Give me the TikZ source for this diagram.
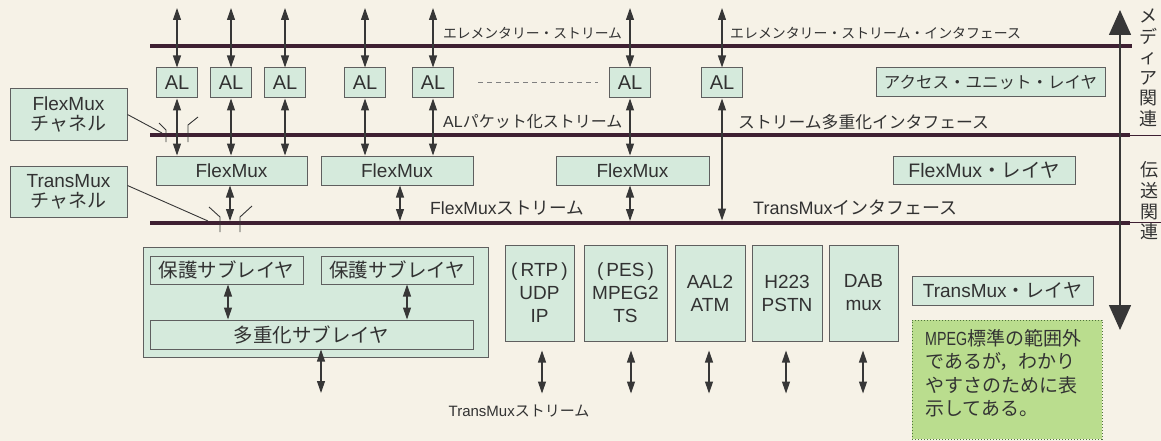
\documentclass[tikz,border=0pt]{standalone}
\usepackage{fontspec}
\setmainfont{Liberation Sans}
\newfontfamily\jp{Noto Sans CJK JP}
\usetikzlibrary{arrows.meta}
\definecolor{bg}{RGB}{246,242,231}
\definecolor{boxfill}{RGB}{213,234,220}
\definecolor{boxline}{RGB}{95,95,95}
\definecolor{barcol}{RGB}{62,32,50}
\definecolor{arrcol}{RGB}{55,55,55}
\definecolor{notefill}{RGB}{186,221,142}
\definecolor{noteline}{RGB}{80,115,60}
\definecolor{txt}{RGB}{50,50,50}
\newcommand\fsz[2]{\fontsize{#1}{#2}\selectfont}
\begin{document}
\begin{tikzpicture}[x=1pt,y=-1pt,
  lay/.style={draw=boxline, fill=boxfill, line width=1pt, inner sep=0pt, text=txt},
  bar/.style={draw=barcol, line width=4pt},
  barthin/.style={draw=barcol, line width=1pt},
  dbl/.style={draw=arrcol, line width=1.1pt, {Triangle[width=8pt,length=12pt]}-{Triangle[width=8pt,length=12pt]}},
  bigarrow/.style={draw=arrcol, line width=1.5pt, {Triangle[width=22pt,length=25pt]}-{Triangle[width=22pt,length=25pt]}},
  lead/.style={draw=arrcol, line width=0.9pt},
  lbl/.style={text=txt, inner sep=0pt},
  albox/.style={lay, minimum width=41pt, minimum height=30pt, font=\fsz{20}{20}},
  fmbox/.style={lay, minimum height=29pt, font=\fsz{19}{19}},
  protbox/.style={lay, minimum height=96pt, align=center, font=\fsz{19}{23}},
]
\fill[bg] (0,0) rectangle (1161,441);
\useasboundingbox (0,0) rectangle (1161,441);

% interface bars
\coordinate (b1l) at (150,46);  \coordinate (b1r) at (1132,46);
\coordinate (b2l) at (150,135); \coordinate (b2r) at (1130,135); \coordinate (b2e) at (1161,135);
\coordinate (b3l) at (150,222.5); \coordinate (b3r) at (1130,222.5); \coordinate (b3e) at (1161,222.5);
\draw[bar] (b1l) -- (b1r);
\draw[bar] (b2l) -- (b2r);
\draw[barthin] (b2r) -- (b2e);
\draw[bar] (b3l) -- (b3r);
\draw[barthin] (b3r) -- (b3e);

% AL boxes
\node[albox] (al1) at (177,83) {AL};
\node[albox] (al2) at (231,83) {AL};
\node[albox] (al3) at (285,83) {AL};
\node[albox] (al4) at (365,83) {AL};
\node[albox] (al5) at (433,83) {AL};
\node[albox] (al6) at (630,83) {AL};
\node[albox] (al7) at (722,83) {AL};
\draw[draw=gray, line width=1pt, dash pattern=on 5pt off 4pt] (al5.east) ++(24,0) coordinate (dl) -- (598,83) coordinate (dr);

% top arrows
\foreach \n/\x in {1/177,2/231,3/285,4/365,5/433,6/630,7/722}{
  \coordinate (t\n) at (\x,8);
  \draw[dbl] (t\n) -- (al\n.north);
}

% FlexMux boxes
\node[fmbox, minimum width=151pt] (fm1) at (231.5,170.5) {FlexMux};
\node[fmbox, minimum width=152pt] (fm2) at (397,170.5) {FlexMux};
\node[fmbox, minimum width=153pt] (fm3) at (632.5,170.5) {FlexMux};

\foreach \n/\m in {1/1,2/1,3/1,4/2,5/2,6/3}{
  \draw[dbl] (al\n.south) -- (al\n.south |- fm\m.north);
}
\coordinate (a7e) at (722,220.5);
\draw[dbl] (al7.south) -- (a7e);

\coordinate (f1e) at (230,221);
\coordinate (f2e) at (400,221);
\coordinate (f3e) at (630,221);
\draw[dbl] (fm1.south -| f1e) -- (f1e);
\draw[dbl] (fm2.south -| f2e) -- (f2e);
\draw[dbl] (fm3.south -| f3e) -- (f3e);

% layer boxes on the right
\node[lay, minimum width=229pt, minimum height=29pt, font=\jp\fsz{16.5}{16.5}] (aul) at (990.5,82.5) {アクセス・ユニット・レイヤ};
\node[lay, minimum width=182pt, minimum height=28pt, font=\fsz{19.5}{19.5}] (fml) at (984,170) {FlexMux{\jp ・レイヤ}};
\node[lay, minimum width=181pt, minimum height=29pt, font=\fsz{19}{19}] (tml) at (1002.5,290.5) {TransMux{\jp ・レイヤ}};

% channel boxes
\node[lay, minimum width=117pt, minimum height=51pt, align=center, font=\fsz{19}{20}] (fmch) at (68.5,114.5) {FlexMux\\{\jp チャネル}};
\node[lay, minimum width=117pt, minimum height=51pt, align=center, font=\fsz{19}{20}] (tmch) at (68.5,191.5) {TransMux\\{\jp チャネル}};

\coordinate (fmchp) at (162,133);
\draw[lead] (fmch.east) -- (fmchp);
\draw[lead] (159,123) -- (166,130) -- (166,142);
\draw[lead] (198,117) -- (188,125) -- (188,142);
\coordinate (tmchp) at (208,221);
\draw[lead] ([yshift=6pt]tmch.east) -- (tmchp);
\draw[lead] (209,207) -- (220,217) -- (220,232);
\draw[lead] (252,206) -- (240,217) -- (240,232);

% bar labels
\node[lbl, font=\jp\fsz{13.8}{13.8}] (es) at (532.5,33) {エレメンタリー・ストリーム};
\node[lbl, anchor=west, font=\jp\fsz{13.9}{13.9}] (esi) at (730,33) {エレメンタリー・ストリーム・インタフェース};
\node[lbl, anchor=west, font=\fsz{16}{16}] (alps) at (443,122) {AL{\jp パケット化ストリーム}};
\node[lbl, anchor=west, font=\jp\fsz{16.8}{16.8}] (smi) at (738,122) {ストリーム多重化インタフェース};
\node[lbl, anchor=west, font=\fsz{17.6}{17.6}] (fms) at (430,208) {FlexMux{\jp ストリーム}};
\node[lbl, anchor=west, font=\fsz{18}{18}] (tmi) at (753,208) {TransMux{\jp インタフェース}};

% vertical side labels and big arrow
\coordinate (mtop) at (1120,10);
\coordinate (mbot) at (1120,330);
\draw[bigarrow] (mtop) -- (mbot);
\node[lbl, align=center, font=\jp\fsz{18}{20.5}] (media) at (1148.5,68) {メ\\デ\\ィ\\ア\\関\\連};
\node[lbl, align=center, font=\jp\fsz{18}{20.7}] (trans) at (1149,201) {伝\\送\\関\\連};

% TransMux container
\node[lay, minimum width=345pt, minimum height=110pt] (cont) at (315.5,302) {};
\node[lay, minimum width=153pt, minimum height=28pt, font=\jp\fsz{19.5}{19.5}] (pr1) at (226.5,270) {保護サブレイヤ};
\node[lay, minimum width=152pt, minimum height=28pt, font=\jp\fsz{19.5}{19.5}] (pr2) at (397,270) {保護サブレイヤ};
\node[lay, minimum width=323pt, minimum height=29pt, font=\jp\fsz{19.5}{19.5}] (mux) at (311.5,334.5) {多重化サブレイヤ};
\coordinate (p1x) at (228,0);
\coordinate (p2x) at (407,0);
\draw[dbl] (pr1.south -| p1x) -- (mux.north -| p1x);
\draw[dbl] (pr2.south -| p2x) -- (mux.north -| p2x);
\coordinate (muxe) at (321,393);
\draw[dbl] (mux.south -| muxe) -- (muxe);

% protocol boxes
\node[protbox, minimum width=69pt] (pa) at (539.5,293) {(\,RTP\,)\\UDP\\IP};
\node[protbox, minimum width=83pt] (pb) at (625.5,293) {(\,PES\,)\\MPEG2\\TS};
\node[protbox, minimum width=70pt] (pc) at (710,293) {AAL2\\ATM};
\node[protbox, minimum width=70pt] (pd) at (787,293) {H223\\PSTN};
\node[protbox, minimum width=69pt] (pe) at (863.5,293) {DAB\\mux};
\foreach \p/\dx in {pa/2.5,pb/5.5,pc/-1,pd/-1,pe/-0.5}{
  \coordinate (\p t) at ([xshift=\dx pt, yshift=-9pt]\p.south);
  \coordinate (\p b) at ([xshift=\dx pt, yshift=-52pt]\p.south);
  \draw[dbl] (\p t) -- (\p b);
}
\node[lbl, font=\fsz{15}{15}] (tms) at (519,411) {TransMux{\jp ストリーム}};

% note box
\node[draw=noteline, fill=notefill, line width=1pt, dash pattern=on 1.2pt off 1.8pt, minimum width=190pt, minimum height=119pt, inner sep=0pt] (note) at (1007,379.5) {};
\node[lbl, anchor=west, align=left, text=black!80, font=\jp\fsz{19}{23.5}] (notetxt) at (925,373)
  {\scalebox{0.75}[1]{\fontspec{Liberation Sans}MPEG}標準の範囲外\\であるが，わかり\\やすさのために表\\示してある。};
\end{tikzpicture}
\end{document}
